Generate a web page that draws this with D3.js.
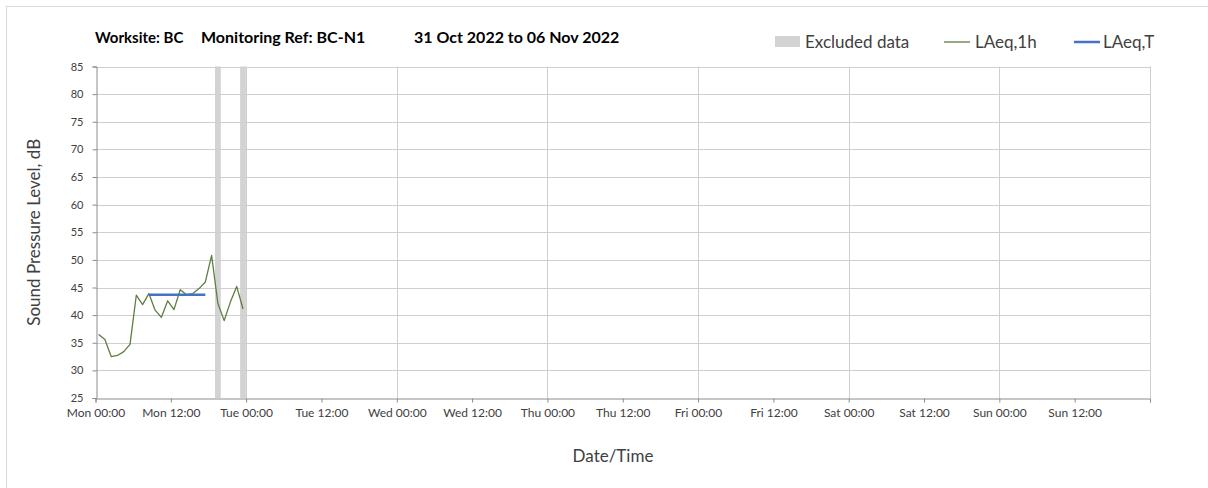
<!DOCTYPE html>
<html>
<head>
<meta charset="utf-8">
<script src="https://cdn.jsdelivr.net/npm/d3@7"></script>
<style>
  body { margin: 0; background: #fff; }
  text { font-family: Lato, "Open Sans", sans-serif; }
</style>
</head>
<body>
<svg id="chart"></svg>
<script>
// hourly periods, Mon 31 Oct 2022 (hour of week at start of period)
var hours = [0, 1, 2, 3, 4, 5, 6, 7, 8, 9, 10, 11, 12, 13, 14, 15, 16, 17, 18, 19, 20, 21, 22, 23];
var laeq1h = [36.5, 35.6, 32.5, 32.7, 33.4, 34.7, 43.6, 41.9, 43.9, 40.9, 39.6, 42.6,
              41.0, 44.6, 43.7, 43.9, 44.8, 46.0, 50.8, 42.1, 39.0, 42.4, 45.2, 41.1];
// LAeq,T over the day period
var laeqTHours = [8, 17];
var laeqTValues = [43.7, 43.7];
// hours flagged as excluded
var excludedHours = [19, 23];

var yTicks = [25, 30, 35, 40, 45, 50, 55, 60, 65, 70, 75, 80, 85];
var xTickHours = [0, 12, 24, 36, 48, 60, 72, 84, 96, 108, 120, 132, 144, 156, 168];
var xTickLabels = ["Mon 00:00", "Mon 12:00", "Tue 00:00", "Tue 12:00", "Wed 00:00", "Wed 12:00",
                   "Thu 00:00", "Thu 12:00", "Fri 00:00", "Fri 12:00", "Sat 00:00", "Sat 12:00",
                   "Sun 00:00", "Sun 12:00", ""];
var gridHours = [24, 48, 72, 96, 120, 144, 168];

var W = 1208, H = 488;
var plot = { left: 95.5, right: 1150, top: 66.5, bottom: 398 };

var svg = d3.select("#chart").attr("width", W).attr("height", H);

// outer chart border
svg.append("rect")
    .attr("x", 6.5).attr("y", 6.5)
    .attr("width", W + 20).attr("height", H + 20)
    .style("fill", "none").style("stroke", "#d9d9d9");

var x = d3.scaleLinear().domain([0, 168]).range([plot.left, plot.right]);
var y = d3.scaleLinear().domain([25, 85]).range([plot.bottom, plot.top]);

// excluded bars (full height)
svg.append("g").selectAll("rect")
    .data(excludedHours)
    .enter().append("rect")
    .attr("x", function(d) { return x(d + 0.04); })
    .attr("width", function(d) { return x(d + 0.96) - x(d + 0.04); })
    .attr("y", y(85))
    .attr("height", y(25) - y(85))
    .style("fill", "#d3d3d3");

// gridlines
var grid = svg.append("g");
grid.selectAll(".hgrid")
    .data(yTicks.slice(1))
    .enter().append("line")
    .attr("x1", plot.left).attr("x2", plot.right)
    .attr("y1", function(d) { return Math.round(y(d)) + 0.5; })
    .attr("y2", function(d) { return Math.round(y(d)) + 0.5; })
    .style("stroke", "#cfcfcf");
grid.selectAll(".vgrid")
    .data(gridHours)
    .enter().append("line")
    .attr("y1", plot.top).attr("y2", plot.bottom)
    .attr("x1", function(d) { return Math.round(x(d)) + 0.5; })
    .attr("x2", function(d) { return Math.round(x(d)) + 0.5; })
    .style("stroke", "#cfcfcf");

// axes
var yAxis = svg.append("g")
    .attr("transform", "translate(" + (Math.round(plot.left) + 0.5) + ",0)")
    .call(d3.axisLeft(y).tickValues(yTicks).tickSize(4).tickPadding(9).tickFormat(d3.format("d")));
var xAxis = svg.append("g")
    .attr("transform", "translate(0," + (Math.round(plot.bottom) + 0.5) + ")")
    .call(d3.axisBottom(x).tickValues(xTickHours).tickSize(4).tickPadding(6)
        .tickFormat(function(d, i) { return xTickLabels[i]; }));
[yAxis, xAxis].forEach(function(a) {
    a.select(".domain").style("stroke", "#8c8c8c");
    a.selectAll(".tick line").style("stroke", "#8c8c8c");
    a.selectAll(".tick text").style("fill", "#404040")
        .style("font-family", "Lato, 'Open Sans', sans-serif");
});
yAxis.selectAll(".tick text").style("font-size", "11px");
xAxis.selectAll(".tick text").style("font-size", "12px");

// LAeq,1h line (plotted at mid-period)
var line = d3.line()
    .x(function(d) { return x(d[0] + 0.5); })
    .y(function(d) { return y(d[1]); });
svg.append("path")
    .datum(hours.map(function(h, i) { return [h, laeq1h[i]]; }))
    .attr("d", line)
    .style("fill", "none")
    .style("stroke", "#5e7d40")
    .style("stroke-width", 1.3)
    .style("stroke-linejoin", "round");

// LAeq,T line
svg.append("path")
    .datum(laeqTHours.map(function(h, i) { return [h, laeqTValues[i]]; }))
    .attr("d", line)
    .style("fill", "none")
    .style("stroke", "#4472c4")
    .style("stroke-width", 2.5);

// title
var title = svg.append("text").attr("y", 43).style("font-weight", "bold").style("font-size", "15px").style("fill", "#000");
title.append("tspan").attr("x", 95).text("Worksite: BC");
title.append("tspan").attr("x", 201).style("font-size", "16px").text("Monitoring Ref: BC-N1");
title.append("tspan").attr("x", 414).style("font-size", "16px").text("31 Oct 2022 to 06 Nov 2022");

// legend
var legend = svg.append("g").style("font-size", "17px").style("fill", "#404040");
legend.append("rect").attr("x", 775).attr("y", 36).attr("width", 25).attr("height", 11).style("fill", "#d3d3d3");
legend.append("text").attr("x", 805).attr("y", 48).text("Excluded data");
legend.append("line").attr("x1", 944).attr("x2", 970).attr("y1", 42).attr("y2", 42)
    .style("stroke", "#5e7d40").style("stroke-width", 1.3);
legend.append("text").attr("x", 975).attr("y", 48).text("LAeq,1h");
legend.append("line").attr("x1", 1074).attr("x2", 1100).attr("y1", 42).attr("y2", 42)
    .style("stroke", "#4472c4").style("stroke-width", 2.5);
legend.append("text").attr("x", 1103).attr("y", 48).text("LAeq,T");

// axis titles
svg.append("text")
    .attr("transform", "translate(40," + ((plot.top + plot.bottom) / 2) + ") rotate(-90)")
    .attr("text-anchor", "middle")
    .style("font-size", "17px").style("fill", "#404040")
    .text("Sound Pressure Level, dB");
svg.append("text")
    .attr("x", 613).attr("y", 462)
    .attr("text-anchor", "middle")
    .style("font-size", "17px").style("fill", "#404040")
    .text("Date/Time");
</script>
</body>
</html>
